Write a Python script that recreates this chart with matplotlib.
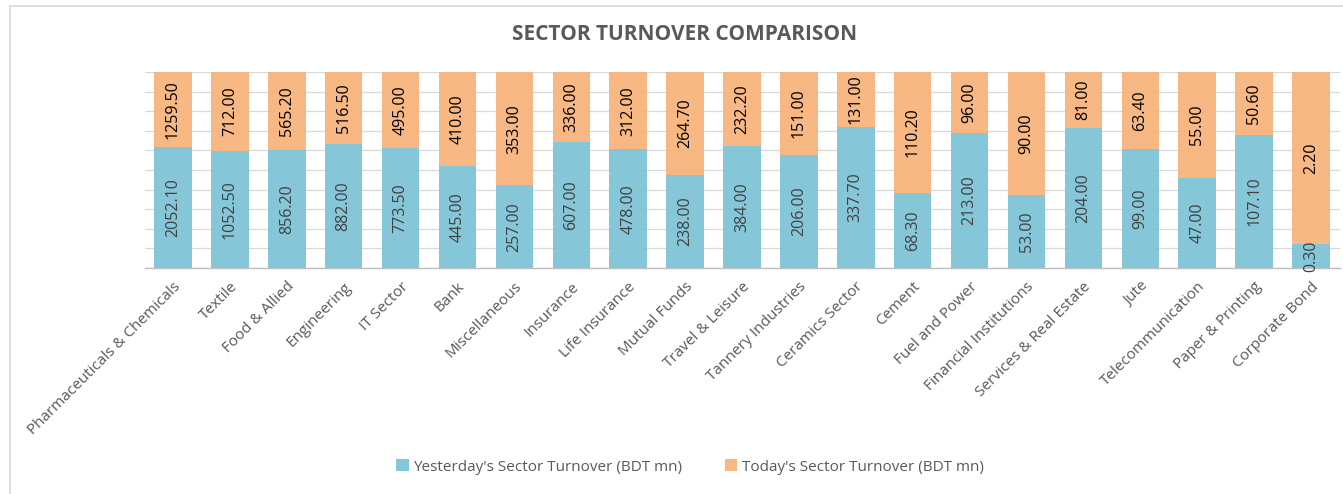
import matplotlib
matplotlib.use("Agg")
import matplotlib.pyplot as plt
import numpy as np
from matplotlib.patches import Rectangle

categories = ["Pharmaceuticals & Chemicals", "Textile", "Food & Allied", "Engineering",
              "IT Sector", "Bank", "Miscellaneous", "Insurance", "Life Insurance",
              "Mutual Funds", "Travel & Leisure", "Tannery Industries", "Ceramics Sector",
              "Cement", "Fuel and Power", "Financial Institutions", "Services & Real Estate",
              "Jute", "Telecommunication", "Paper & Printing", "Corporate Bond"]
yesterday = [2052.10, 1052.50, 856.20, 882.00, 773.50, 445.00, 257.00, 607.00, 478.00,
             238.00, 384.00, 206.00, 337.70, 68.30, 213.00, 53.00, 204.00, 99.00, 47.00,
             107.10, 0.30]
today = [1259.50, 712.00, 565.20, 516.50, 495.00, 410.00, 353.00, 336.00, 312.00,
         264.70, 232.20, 151.00, 131.00, 110.20, 96.00, 90.00, 81.00, 63.40, 55.00,
         50.60, 2.20]
series_names = ["Yesterday's Sector Turnover (BDT mn)", "Today's Sector Turnover (BDT mn)"]

plt.rcParams['font.family'] = ['Open Sans', 'DejaVu Sans']

W, H = 1343, 494
fig = plt.figure(figsize=(W / 100, H / 100), dpi=100)
fig.patches.append(Rectangle((10 / W, -0.1), 1.2, 1 - 6 / H + 0.1, transform=fig.transFigure,
                             fill=False, edgecolor='#D9D9D9', linewidth=1.2))

ax = fig.add_axes([144.5 / W, 1 - 268 / H, (1339.5 - 144.5) / W, (268 - 72) / H])

y = np.array(yesterday)
t = np.array(today)
tot = y + t
ys = y / tot
ts = t / tot
x = np.arange(len(categories))

blue = '#7FC4D6'
orange = '#F8B47C'
ax.bar(x, ys, width=0.66, color=blue, alpha=0.95, label=series_names[0], zorder=2)
ax.bar(x, ts, width=0.66, bottom=ys, color=orange, alpha=0.95, label=series_names[1], zorder=2)

for i in range(len(x)):
    ax.text(x[i], ys[i] / 2, f"{yesterday[i]:.2f}", rotation=90, ha='center', va='center',
            fontsize=11.5, color='#404040', zorder=3, clip_on=False)
    ax.text(x[i], ys[i] + ts[i] / 2, f"{today[i]:.2f}", rotation=90, ha='center', va='center',
            fontsize=11.5, color='#000000', zorder=3)

ax.set_xlim(-0.5, len(x) - 0.5)
ax.set_ylim(0, 1)
ax.set_yticks(np.arange(0, 1.01, 0.1))
ax.set_yticklabels([])
ax.tick_params(axis='y', length=0)
ax.grid(axis='y', color='#D9D9D9', linewidth=0.9, zorder=0)
ax.set_axisbelow(True)
for s in ['top', 'right', 'left']:
    ax.spines[s].set_visible(False)
ax.spines['bottom'].set_color('#BFBFBF')
ax.spines['bottom'].set_linewidth(1)

ax.set_xticks(x)
ax.set_xticklabels(categories, rotation=45, ha='right', rotation_mode='anchor',
                   fontsize=11, color='#595959')
ax.tick_params(axis='x', length=0, pad=8)

fig.text(685 / W, 1 - 35 / H, "SECTOR TURNOVER COMPARISON", ha='center', va='center',
         fontsize=15, fontweight='bold', color='#595959')

fig.legend(loc='center', bbox_to_anchor=(690 / W, 1 - 467 / H), ncol=2, frameon=False,
           fontsize=11, labelcolor='#595959', handlelength=0.8, handleheight=0.8,
           columnspacing=2.8, handletextpad=0.3)

fig.savefig("out.png", dpi=100)
